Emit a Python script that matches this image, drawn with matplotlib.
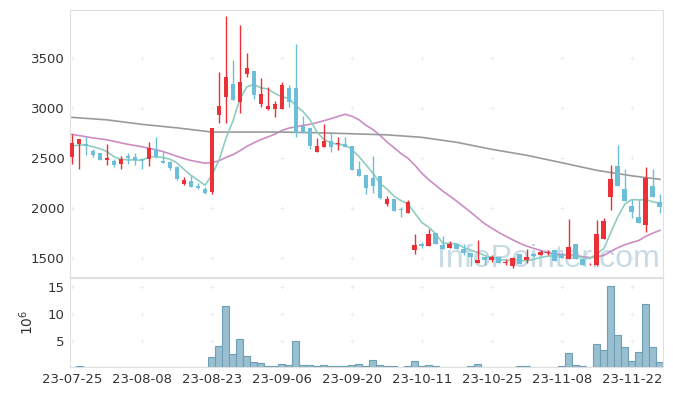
import numpy as np
import pandas as pd
import matplotlib.pyplot as plt

# Trading days (KRX holidays removed)
holidays = ["2023-08-15", "2023-09-28", "2023-09-29", "2023-10-02", "2023-10-03", "2023-10-09"]
dates = [d for d in pd.bdate_range("2023-07-25", "2023-11-28") if d.strftime("%Y-%m-%d") not in holidays]

# OHLC
opens = [2510, 2645, 2645, 2575, 2550, 2485, 2476, 2446, 2523, 2513,
         2496, 2496, 2593, 2473, 2463, 2415, 2245, 2275, 2227, 2195,
         2160, 2937, 3116, 3243, 3066, 3346, 3373, 3046, 2990, 2993,
         2993, 3203, 3203, 2826, 2803, 2566, 2616, 2673, 2640, 2643,
         2623, 2393, 2333, 2303, 2323, 2045, 2093, 1996, 1956, 1585,
         1643, 1625, 1755, 1633, 1606, 1643, 1593, 1556, 1450, 1516,
         1483, 1516, 1458, 1426, 1545, 1480, 1543, 1533, 1553, 1583,
         1530, 1498, 1643, 1493, 1440, 1433, 1690, 2116, 2423, 2192,
         2023, 1913, 1838, 2223, 2066]
highs = [2740, 2695, 2710, 2595, 2555, 2643, 2496, 2523, 2550, 2550,
         2496, 2666, 2710, 2576, 2470, 2420, 2310, 2326, 2257, 2210,
         2803, 3363, 3923, 3480, 3833, 3550, 3373, 3300, 3216, 3075,
         3260, 3230, 3640, 2920, 2803, 2703, 2846, 2750, 2713, 2716,
         2623, 2476, 2333, 2520, 2323, 2123, 2093, 2016, 2083, 1740,
         1663, 1790, 1755, 1726, 1678, 1643, 1643, 1556, 1680, 1516,
         1530, 1516, 1490, 1516, 1545, 1590, 1550, 1580, 1580, 1583,
         1560, 1893, 1643, 1493, 1450, 1885, 1900, 2436, 2633, 2398,
         2090, 2083, 2416, 2390, 2146]
lows = [2440, 2390, 2535, 2515, 2485, 2430, 2416, 2393, 2443, 2430,
        2390, 2426, 2505, 2450, 2383, 2280, 2233, 2210, 2193, 2140,
        2146, 2850, 2850, 3086, 2957, 3310, 3090, 3016, 2986, 2910,
        2993, 3018, 2713, 2756, 2590, 2566, 2616, 2562, 2580, 2610,
        2386, 2326, 2145, 2153, 2090, 2026, 1978, 1918, 1956, 1540,
        1603, 1623, 1643, 1596, 1606, 1596, 1533, 1423, 1450, 1438,
        1463, 1456, 1433, 1400, 1443, 1450, 1515, 1533, 1530, 1475,
        1500, 1496, 1490, 1433, 1430, 1426, 1690, 1983, 2228, 2076,
        1900, 1858, 1760, 2116, 1955]
closes = [2650, 2690, 2620, 2535, 2487, 2503, 2436, 2493, 2503, 2486,
          2480, 2600, 2516, 2456, 2406, 2293, 2280, 2217, 2207, 2157,
          2803, 3023, 3310, 3086, 3263, 3403, 3133, 3143, 3023, 3043,
          3233, 3060, 2756, 2756, 2626, 2623, 2673, 2616, 2650, 2610,
          2386, 2326, 2208, 2227, 2106, 2095, 1978, 1982, 2063, 1633,
          1628, 1743, 1643, 1596, 1643, 1596, 1556, 1513, 1483, 1485,
          1512, 1456, 1462, 1503, 1445, 1513, 1523, 1566, 1557, 1476,
          1500, 1616, 1492, 1435, 1445, 1745, 1875, 2293, 2228, 2076,
          1966, 1858, 2308, 2116, 2010]
# volume in millions of shares
volume = [0.05, 0.25, 0.05, 0.05, 0.05, 0.05, 0.05, 0.05, 0.05, 0.05,
          0.05, 0.05, 0.05, 0.05, 0.05, 0.05, 0.05, 0.05, 0.05, 0.05,
          1.9, 3.9, 11.4, 2.4, 5.2, 2.05, 1.0, 0.75, 0.25, 0.25,
          0.56, 0.37, 4.85, 0.37, 0.37, 0.2, 0.35, 0.2, 0.2, 0.2,
          0.35, 0.55, 0.2, 1.35, 0.35, 0.2, 0.2, 0.05, 0.2, 1.2,
          0.2, 0.37, 0.2, 0.05, 0.05, 0.05, 0.05, 0.2, 0.55, 0.05,
          0.05, 0.05, 0.05, 0.05, 0.2, 0.2, 0.05, 0.05, 0.05, 0.05,
          0.2, 2.7, 0.37, 0.2, 0.05, 4.35, 3.2, 15.2, 6.0, 3.8,
          1.2, 2.85, 11.8, 3.8, 1.0]

# moving-average lead-in values (history before the window)
ma5_head = [2623, 2633, 2633, 2616]
ma20_head = [2740, 2728, 2716, 2704, 2695, 2685, 2670, 2655, 2640, 2628,
             2616, 2600, 2585, 2568, 2545, 2520, 2498, 2478, 2465]
# long moving average sampled off the chart
ma_long_idx = [0, 5, 10, 15, 20, 25, 30, 35, 40, 45, 50, 55, 60, 65, 70, 75, 80, 84]
ma_long_val = [2910, 2885, 2840, 2805, 2763, 2763, 2763, 2756, 2746, 2735,
               2710, 2660, 2590, 2530, 2456, 2380, 2325, 2290]

df = pd.DataFrame({"open": opens, "high": highs, "low": lows, "close": closes, "vol": volume}, index=dates)
ma5 = df["close"].rolling(5).mean().values
ma5[:4] = ma5_head
ma20 = df["close"].rolling(20).mean().values
ma20[:19] = ma20_head

x = np.arange(len(df))
up = df["close"] >= df["open"]
colors = np.where(up, "#ec3037", "#6cbfd7")

fig = plt.figure(figsize=(6.73, 3.96), dpi=100)
ax = fig.add_axes([0.104, 0.3005, 0.881, 0.674])
axv = fig.add_axes([0.104, 0.0725, 0.881, 0.2245], sharex=ax)

# watermark
ax.text(0.995, 0.012, "InfoPointer.com", transform=ax.transAxes, ha="right", va="bottom",
        fontsize=23, family="Liberation Sans", color="#b5cfdf", alpha=0.75, zorder=1)

# moving averages
ax.plot(x, ma20, color="#cc8cc4", lw=1.2, zorder=2)
ax.plot(ma_long_idx, ma_long_val, color="#9a9a9a", lw=1.2, zorder=2)
ax.plot(x, ma5, color="#8fcdc0", lw=1.2, zorder=2)

# candles
ax.vlines(x, df["low"], df["high"], colors=colors, lw=1.0, zorder=3)
body = np.maximum((df["close"] - df["open"]).abs(), 8)
ax.bar(x, body, bottom=np.minimum(df["open"], df["close"]), width=0.7, color=colors, zorder=4)

# volume
axv.bar(x, df["vol"], width=1.0, color="#99bfd0", edgecolor="#6d9fb5", lw=0.8, zorder=3)

xt = np.arange(0, len(df), 10)
ax.set_xlim(-0.29, 84.43)
ax.set_ylim(1313, 3983)
axv.set_ylim(0, 16.6)
ax.set_xticks(xt)
axv.set_xticklabels([dates[i].strftime("%y-%m-%d") for i in xt])
ax.set_yticks([1500, 2000, 2500, 3000, 3500])
axv.set_yticks([5, 10, 15])
axv.set_ylabel("$10^6$", fontsize=10, color="#333333", labelpad=8)
plt.setp(ax.get_xticklabels(), visible=False)

for a, yt in [(ax, ax.get_yticks()), (axv, axv.get_yticks())]:
    gx, gy = np.meshgrid(xt, yt)
    a.scatter(gx.ravel(), gy.ravel(), marker="+", s=10, color="#ececec", lw=0.7, zorder=0)
    a.tick_params(length=0, labelsize=9.5, labelcolor="#333333", pad=4)
    for s in a.spines.values():
        s.set_color("#e0e0e0")

fig.savefig("out.png", dpi=100)
